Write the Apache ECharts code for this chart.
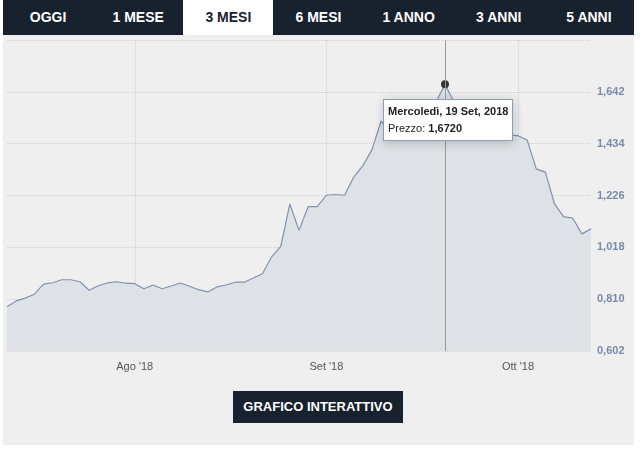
<!DOCTYPE html>
<html>
<head>
<meta charset="utf-8">
<script src="https://cdn.jsdelivr.net/npm/echarts@6/dist/echarts.min.js"></script>
<style>
body { margin: 0; background: #fff; font-family: "Liberation Sans", Arial, sans-serif; }
#tabs { position: absolute; left: 3px; top: 0; width: 631px; height: 35px; background: #18212e; display: flex; }
#tabs div { flex: 1; color: #fff; font-weight: bold; font-size: 14px; line-height: 35px; text-align: center; }
#tabs div.on { background: #fff; color: #18212e; }
#main { position: absolute; left: 3px; top: 35px; width: 631px; height: 410px; background: #efefef; }
#btn { position: absolute; left: 233px; top: 391px; width: 170px; height: 32px; background: #18212e; color: #fff;
  font-weight: bold; font-size: 13px; line-height: 32px; text-align: center; }
</style>
</head>
<body>
<div id="tabs"><div>OGGI</div><div>1 MESE</div><div class="on">3 MESI</div><div>6 MESI</div><div>1 ANNO</div><div>3 ANNI</div><div>5 ANNI</div></div>
<div id="main"></div>
<div id="btn">GRAFICO INTERATTIVO</div>
<script type="text/javascript">
    // prezzi giornalieri (dal 13 lug all'11 ott 2018)
    var prezzi = [0.780, 0.803, 0.814, 0.830, 0.870, 0.876, 0.888, 0.888, 0.880, 0.846,
        0.864, 0.875, 0.880, 0.874, 0.872, 0.852, 0.867, 0.852, 0.863, 0.875,
        0.862, 0.848, 0.839, 0.859, 0.867, 0.878, 0.878, 0.895, 0.912, 0.980,
        1.022, 1.192, 1.086, 1.181, 1.181, 1.227, 1.230, 1.227, 1.300, 1.346,
        1.410, 1.525, 1.472, 1.500, 1.530, 1.520, 1.560, 1.600, 1.672, 1.600,
        1.570, 1.550, 1.560, 1.530, 1.519, 1.468, 1.466, 1.449, 1.333, 1.320,
        1.192, 1.141, 1.135, 1.072, 1.092];
    var mesiLabel = { '2018-08-02': "Ago '18", '2018-08-31': "Set '18", '2018-10-01': "Ott '18" };
    var giorni = ['Domenica', 'Lunedì', 'Martedì', 'Mercoledì', 'Giovedì', 'Venerdì', 'Sabato'];
    var mesi = ['Gen', 'Feb', 'Mar', 'Apr', 'Mag', 'Giu', 'Lug', 'Ago', 'Set', 'Ott', 'Nov', 'Dic'];

    // giorni di borsa (lun-ven)
    var date = [];
    var d = new Date(2018, 6, 13);
    while (date.length < prezzi.length) {
        if (d.getDay() != 0 && d.getDay() != 6) date.push(new Date(d));
        d.setDate(d.getDate() + 1);
    }
    function key(dt) {
        return dt.getFullYear() + '-' + ('0' + (dt.getMonth() + 1)).slice(-2) + '-' + ('0' + dt.getDate()).slice(-2);
    }
    var categorie = date.map(key);
    function isMese(i) { return !!mesiLabel[categorie[i]]; }

    var myChart = echarts.init(document.getElementById('main'));
    var option = {
        animation: false,
        grid: { left: 4, right: 43, top: 5, bottom: 94 },
        tooltip: {
            trigger: 'axis',
            alwaysShowContent: true,
            position: [380, 64],
            backgroundColor: '#fff',
            borderColor: '#8aa0b8',
            borderWidth: 1,
            borderRadius: 0,
            padding: [3, 4],
            textStyle: { fontSize: 11, color: '#222', fontFamily: 'Liberation Sans' },
            axisPointer: { type: 'line', lineStyle: { color: '#999', width: 1, type: 'solid' } },
            formatter: function (p) {
                var dt = date[p[0].dataIndex];
                return '<span style="font-weight:bold">' + giorni[dt.getDay()] + ', ' + dt.getDate() + ' ' +
                    mesi[dt.getMonth()] + ', ' + dt.getFullYear() + '</span><br>Prezzo: <b>' +
                    p[0].value.toFixed(4).replace('.', ',') + '</b>';
            }
        },
        xAxis: {
            type: 'category',
            boundaryGap: false,
            data: categorie,
            axisLine: { show: false },
            axisTick: { show: false },
            axisLabel: {
                interval: function (i) { return isMese(i); },
                formatter: function (v) { return mesiLabel[v] || ''; },
                color: '#555', fontSize: 11, margin: 10
            },
            splitLine: { show: true, interval: function (i) { return isMese(i); },
                lineStyle: { color: '#cfcfcf', type: 'dotted' } }
        },
        yAxis: {
            type: 'value',
            position: 'right',
            min: 0.602,
            max: 1.850,
            interval: 0.208,
            axisLine: { show: false },
            axisTick: { show: false },
            axisLabel: {
                color: '#7a8ca8', fontSize: 11, fontWeight: 'bold', margin: 6,
                formatter: function (v) { return v > 1.8 ? '' : v.toFixed(3).replace('.', ','); }
            },
            splitLine: { lineStyle: { color: '#cfcfcf', type: 'dotted' } }
        },
        series: [{
            type: 'line',
            data: prezzi,
            showSymbol: false,
            symbol: 'none',
            emphasis: { disabled: true },
            lineStyle: { color: '#7f93b0', width: 1.2 },
            areaStyle: { color: 'rgb(222,226,230)', opacity: 1 },
            markPoint: {
                symbol: 'circle', symbolSize: 8,
                itemStyle: { color: '#333' },
                label: { show: false },
                data: [{ coord: [48, prezzi[48]] }]
            }
        }]
    };
    myChart.setOption(option);
    myChart.dispatchAction({ type: 'showTip', seriesIndex: 0, dataIndex: 48 });
</script>
</body>
</html>
